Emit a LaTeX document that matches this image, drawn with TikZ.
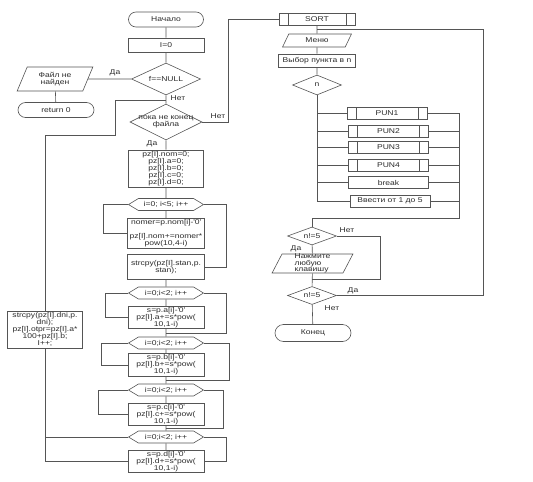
\documentclass[tikz,border=0pt]{standalone}
\usepackage{fontspec}
\setmainfont{Liberation Sans}[FakeStretch=1.22]
\usepackage{tikz}
\usetikzlibrary{positioning,shapes.geometric,shapes.symbols,calc}
\definecolor{ink}{HTML}{2B2B2B}
\definecolor{wire}{HTML}{555555}
\tikzset{
  box/.style={
    draw=wire, line width=0.6pt, fill=white, align=center, inner sep=1pt,
    font=\fontsize{7}{7}\selectfont\color{ink}},
  proc/.style={box, rectangle, minimum height=13pt},
  term/.style={box, rectangle, rounded corners=7.5pt, minimum height=15pt},
  decide/.style={box, diamond, aspect=2, inner sep=0pt},
  io/.style={box, trapezium, trapezium left angle=68, trapezium right angle=112,
    trapezium stretches=true},
  loophead/.style={box, signal, signal to=east and west, signal pointer angle=62,
    minimum width=75pt, minimum height=12pt, inner sep=0pt},
  subproc/.style={proc, path picture={
    \draw[wire, line width=0.6pt] ([xshift=9pt]path picture bounding box.north west)
      -- ([xshift=9pt]path picture bounding box.south west);
    \draw[wire, line width=0.6pt] ([xshift=-9pt]path picture bounding box.north east)
      -- ([xshift=-9pt]path picture bounding box.south east);}},
  flow/.style={draw=wire, line width=0.6pt},
  lbl/.style={inner sep=0pt, font=\fontsize{7}{7}\selectfont\color{ink}},
}

\begin{document}
\begin{tikzpicture}[x=1pt, y=-1pt]
  \useasboundingbox (0,0) rectangle (533,482);

  \node[term, minimum width=75pt] (start) at (166,19.5) {Начало};
  \node[proc, minimum width=76pt, minimum height=14pt] (izero) at (166,45) {I=0};
  \node[decide, minimum width=69pt, minimum height=32pt] (fnull) at (166,79) {f==NULL};
  \node[io, minimum width=76pt, minimum height=24pt] (nofile) at (55,79) {Файл не\\найден};
  \node[term, minimum width=76pt] (ret) at (56,110) {return 0};
  \node[decide, minimum width=72pt, minimum height=36pt, inner xsep=-8pt, inner ysep=-4pt] (whilef) at (166,122) {пока не конец\\файла};
  \node[proc, minimum width=75pt, minimum height=37pt] (zero) at (166,168.5) {pz[I].nom=0;\\pz[I].a=0;\\pz[I].b=0;\\pz[I].c=0;\\pz[I].d=0;};
  \node[loophead] (nloop) at (166,204.5) {i=0; i<5; i++};
  \node[proc, minimum width=77pt, minimum height=29pt] (nbody) at (166,233.5) {nomer=p.nom[i]-\textquotesingle0\textquotesingle\\[7pt]pz[I].nom+=nomer*\\pow(10,4-i)};
  \node[proc, minimum width=77pt, minimum height=25pt] (stan) at (166,267) {strcpy(pz[I].stan,p.\\stan);};
  \node[loophead] (aloop) at (166,293) {i=0;i<2; i++};
  \node[proc, minimum width=76pt, minimum height=21pt] (abody) at (166,317.5) {s=p.a[i]-\textquotesingle0\textquotesingle\\pz[I].a+=s*pow(\\10,1-i)};
  \node[loophead] (bloop) at (166,343) {i=0;i<2; i++};
  \node[proc, minimum width=76pt, minimum height=21pt] (bbody) at (166,365) {s=p.b[i]-\textquotesingle0\textquotesingle\\pz[I].b+=s*pow(\\10,1-i)};
  \node[loophead] (cloop) at (166,390) {i=0;i<2; i++};
  \node[proc, minimum width=76pt, minimum height=21pt] (cbody) at (166,414.5) {s=p.c[i]-\textquotesingle0\textquotesingle\\pz[I].c+=s*pow(\\10,1-i)};
  \node[loophead] (dloop) at (166,437) {i=0;i<2; i++};
  \node[proc, minimum width=76pt, minimum height=21pt] (dbody) at (166,461.5) {s=p.d[i]-\textquotesingle0\textquotesingle\\pz[I].d+=s*pow(\\10,1-i)};
  \node[proc, minimum width=75pt, minimum height=37pt] (dni) at (45,329.5) {strcpy(pz[I].dni,p.\\dni);\\pz[I].otpr=pz[I].a*\\100+pz[I].b;\\I++;};

  \node[subproc, minimum width=76pt, minimum height=12pt] (sort) at (317,19) {SORT};
  \node[io, minimum width=69pt, minimum height=13pt] (menu) at (317,40.5) {Меню};
  \node[proc, minimum width=77pt, minimum height=13pt] (choose) at (317,60.5) {Выбор пункта в n};
  \node[decide, minimum width=49pt, minimum height=20pt] (nsel) at (317,85) {n};
  \node[subproc, minimum width=80pt, minimum height=12pt] (pun1) at (387,113) {PUN1};
  \node[subproc, minimum width=80pt, minimum height=12pt] (pun2) at (388.5,131) {PUN2};
  \node[subproc, minimum width=80pt, minimum height=12pt] (pun3) at (388.5,147.5) {PUN3};
  \node[subproc, minimum width=80pt, minimum height=12pt] (pun4) at (388.5,165) {PUN4};
  \node[proc, minimum width=80pt, minimum height=12pt] (brk) at (388.5,182.5) {break};
  \node[proc, minimum width=80pt, minimum height=12pt] (enter) at (390,201) {Ввести от 1 до 5};
  \coordinate (rbus) at (459,218);
  \node[decide, minimum width=49pt, minimum height=18pt] (neone) at (312,236) {n!=5};
  \node[io, minimum width=81pt, minimum height=19pt, align=left, inner ysep=-2pt, font=\fontsize{7}{6.5}\selectfont\color{ink}] (press) at (312.5,263.5) {Нажмите\\любую\\клавишу};
  \node[decide, minimum width=49pt, minimum height=18pt] (netwo) at (312,295.5) {n!=5};
  \node[term, minimum width=76pt, minimum height=17pt, rounded corners=8.5pt] (fin) at (313,333) {Конец};

  \node[lbl] (yesnf) at (115,73) {Да};
  \node[lbl] (nonf) at (178,98) {Нет};
  \node[lbl] (noeof) at (218,116) {Нет};
  \node[lbl] (yeseof) at (152,144) {Да};
  \node[lbl] (nokey) at (347,230) {Нет};
  \node[lbl] (yeskey) at (296,249) {Да};
  \node[lbl] (yesrep) at (353,291) {Да};
  \node[lbl] (norep) at (332,308) {Нет};

  \draw[flow] (start) -- (izero) -- (fnull) -- (whilef) -- (zero) -- (nloop) -- (nbody);
  \draw[flow] (fnull) -- (nofile) -- (ret);
  \draw[flow] (dni.north) |- (115,135) |- (fnull.south |- 0,100);
  \draw[flow] (whilef.east) -- ++(26,0) |- (sort.west);
  \draw[flow] (nloop.west) -- ++(-24.5,0) |- (nbody.west);
  \draw[flow] (nloop.east) -- ++(22.5,0) |- (stan.east);
  \draw[flow] (stan) -- (aloop) -- (abody);
  \draw[flow] (aloop.west) -- ++(-22.5,0) |- (abody.west);
  \draw[flow] (aloop.east) -- ++(22.5,0) |- ($(abody.south)!.5!(bloop.north)$);
  \draw[flow] (abody) -- (bloop) -- (bbody);
  \draw[flow] (bloop.west) -- ++(-26.5,0) |- (bbody.west);
  \draw[flow] (bloop.east) -- ++(25.5,0) |- ($(bbody.south)!.5!(cloop.north)$);
  \draw[flow] (bbody) -- (cloop) -- (cbody);
  \draw[flow] (cloop.west) -- ++(-29.5,0) |- (cbody.west);
  \draw[flow] (cloop.east) -- ++(19.5,0) |- ($(cbody.south)!.5!(dloop.north)$);
  \draw[flow] (cbody) -- (dloop) -- (dbody);
  \draw[flow] (dloop.east) -- ++(22.5,0) |- (dbody.east);
  \draw[flow] (dloop.west) -- (dloop.west -| dni.south);
  \draw[flow] (dbody.west) -| (dni.south);

  \draw[flow] (sort) -- (menu) -- (choose) -- (nsel);
  \draw[flow] (nsel.south) |- (enter.west);
  \foreach \p in {pun1,pun2,pun3,pun4,brk}
    \draw[flow] (nsel.south |- \p.west) -- (\p.west);
  \draw[flow] (pun1.east) -| (rbus) -| (neone.north);
  \foreach \p in {pun2,pun3,pun4,brk,enter}
    \draw[flow] (\p.east) -- (\p.east -| rbus);
  \draw[flow] (neone) -- (press) -- (netwo) -- (fin);
  \draw[flow] (neone.east) -- ++(43.5,0) |- ($(press.south)!.5!(netwo.north)$);
  \draw[flow] (netwo.east) -- ++(146,0) |- ($(sort.south)!.5!(menu.north)$);
\end{tikzpicture}
\end{document}
